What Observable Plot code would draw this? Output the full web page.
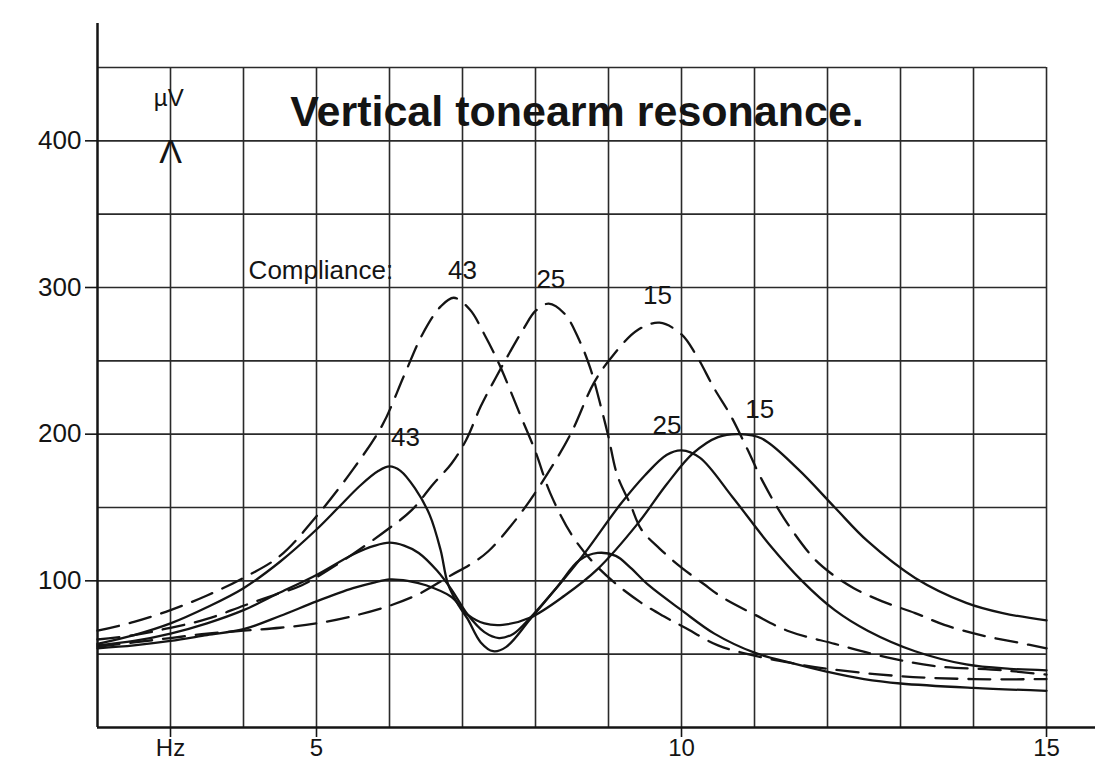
<!DOCTYPE html>
<html><head><meta charset="utf-8">
<script src="https://cdn.jsdelivr.net/npm/d3@7"></script>
<script src="https://cdn.jsdelivr.net/npm/@observablehq/plot@0.6"></script>
<style>html,body{margin:0;padding:0;background:#fff;} svg{display:block}</style>
</head><body><div id="chart"></div>
<script>
// Compliance values (curve labels)
const compliances = ["43", "25", "15"];

// Solid curves (frequency in Hz, output in µV)
const fS43 = [2, 2.5, 3, 3.5, 4, 4.5, 5, 5.3, 5.6, 5.85, 6.0, 6.15, 6.35, 6.55, 6.7, 6.8, 6.95, 7.07, 7.25, 7.42, 7.6, 7.93, 8.3, 8.6, 8.85, 9.1, 9.3, 9.55, 10, 10.45, 11, 11.5, 12, 12.5, 13, 14, 15];
const vS43 = [57, 63, 71, 82, 95, 113, 135, 150, 165, 175, 178, 175, 163, 145, 121, 98, 83, 74, 58, 52, 55, 74, 96, 114, 119, 117, 109, 97, 80, 64, 51, 44, 38, 33, 30, 27, 25];

const fS25 = [2, 2.5, 3, 3.5, 4, 4.5, 5, 5.5, 5.8, 6.0, 6.2, 6.4, 6.65, 6.85, 7.07, 7.3, 7.5, 7.7, 7.93, 8.3, 8.66, 9.16, 9.5, 9.8, 10.0, 10.25, 10.7, 11.2, 11.65, 12.1, 12.55, 13.2, 13.9, 14.5, 15];
const vS25 = [56, 59, 64, 71, 80, 92, 104, 118, 124, 126, 124, 119, 107, 94, 77, 65, 61, 64, 75, 96, 118, 152, 172, 186, 189, 184, 157, 125, 100, 80, 66, 52, 43, 40, 39];

const fS15 = [2, 2.5, 3, 3.5, 4, 4.5, 5, 5.5, 5.8, 6.0, 6.25, 6.5, 6.85, 7.07, 7.3, 7.55, 7.93, 8.4, 8.85, 9.4, 9.8, 10.16, 10.5, 10.8, 11.1, 11.6, 12.1, 12.55, 13.2, 13.9, 14.4, 15];
const vS15 = [54, 56, 59, 63, 67, 76, 86, 95, 99, 101, 100, 97, 89, 77, 71, 70, 75, 90, 108, 139, 166, 187, 198, 200, 197, 176, 150, 127, 102, 85, 78, 73];

// Dashed curves
const fD43 = [2, 2.5, 3, 3.5, 4, 4.5, 5, 5.5, 5.9, 6.2, 6.45, 6.7, 6.88, 7.1, 7.3, 7.5, 7.8, 8.0, 8.2, 8.5, 8.8, 9.1, 9.45, 9.75, 10.05, 10.5, 11, 11.5, 12, 13, 14, 15];
const vD43 = [66, 72, 80, 90, 102, 117, 144, 176, 206, 240, 268, 287, 293, 285, 268, 248, 212, 188, 160, 131, 112, 98, 85, 76, 68, 56, 49, 44, 40, 35, 33, 33];

const fD25 = [2, 2.5, 3, 3.5, 4, 4.4, 4.8, 5.15, 5.55, 6.0, 6.3, 6.6, 6.85, 7.05, 7.25, 7.45, 7.65, 7.85, 8.0, 8.18, 8.4, 8.6, 8.75, 8.9, 9.0, 9.12, 9.3, 9.45, 9.7, 10.0, 10.3, 10.55, 11.0, 11.45, 12.1, 12.8, 13.45, 14.4, 15];
const vD25 = [60, 63, 68, 74, 83, 90, 97, 107, 120, 136, 148, 166, 180, 196, 219, 238, 256, 273, 284, 289, 282, 264, 245, 218, 198, 172, 152, 135, 122, 109, 98, 89, 77, 66, 57, 48, 42, 39, 36];

const fD15 = [2, 2.5, 3, 3.5, 4, 4.5, 5, 5.5, 6.0, 6.4, 6.85, 7.1, 7.35, 7.75, 8.1, 8.48, 8.8, 9.05, 9.4, 9.7, 10.0, 10.2, 10.45, 10.67, 10.9, 11.1, 11.4, 11.8, 12.05, 12.36, 12.75, 13.2, 13.6, 14.1, 14.6, 15];
const vD15 = [55, 58, 61, 64, 66, 68, 71, 76, 83, 91, 104, 111, 120, 143, 168, 200, 235, 253, 271, 276, 268, 254, 231, 213, 190, 169, 143, 116, 105, 95, 86, 78, 70, 63, 58, 54];

// Axes / grid
const xGrid = [3, 4, 5, 6, 7, 8, 9, 10, 11, 12, 13, 14, 15];
const yGrid = [50, 100, 150, 200, 250, 300, 350, 400, 450];
const xTicks = [3, 5, 10, 15];
const xTickLabels = ["Hz", "5", "10", "15"];
const yTicks = [100, 200, 300, 400];

const titleText = "Vertical tonearm resonance.";
const unitText = "µV";
const complianceText = "Compliance:";

const zip = (key, f, v) => f.map((x, i) => ({freq: x, uv: v[i], key}));
const solidRows = [...zip("S43", fS43, vS43), ...zip("S25", fS25, vS25), ...zip("S15", fS15, vS15)];
const dashedRows = [...zip("D43", fD43, vD43), ...zip("D25", fD25, vD25), ...zip("D15", fD15, vD15)];

const dashedLabels = [
  {x: 7.0, y: 306, t: compliances[0]},
  {x: 8.21, y: 300, t: compliances[1]},
  {x: 9.67, y: 289, t: compliances[2]}
];
const solidLabels = [
  {x: 6.22, y: 192, t: compliances[0]},
  {x: 9.8, y: 200, t: compliances[1]},
  {x: 11.07, y: 211, t: compliances[2]}
];

const ink = "#141414";
const chart = Plot.plot({
  width: 1095, height: 766,
  marginLeft: 97, marginRight: 0, marginTop: 23, marginBottom: 39,
  x: {domain: [2, 15.671]},
  y: {domain: [0, 480]},
  style: {fontFamily: "'Liberation Sans', Arial, sans-serif", fontSize: "26px", color: ink, background: "#fff"},
  marks: [
    Plot.ruleX(xGrid, {y1: 0, y2: 450, stroke: "#2a2a2a", strokeWidth: 1.6}),
    Plot.ruleY(yGrid, {x1: 2, x2: 15, stroke: "#2a2a2a", strokeWidth: 1.6}),
    Plot.ruleX([2], {y1: 0, y2: 480, stroke: ink, strokeWidth: 2.5}),
    Plot.ruleY([0], {x1: 2, x2: 15.671, stroke: ink, strokeWidth: 2.5}),
    Plot.axisY(yTicks, {tickSize: 12, tickPadding: 4, label: null, fontSize: 26, strokeWidth: 1.6}),
    Plot.axisX(xTicks, {tickSize: 10, tickPadding: 1, label: null, fontSize: 24, strokeWidth: 1.6,
      tickFormat: d => xTickLabels[xTicks.indexOf(d)]}),
    Plot.line(solidRows, {x: "freq", y: "uv", z: "key", curve: "catmull-rom", stroke: ink, strokeWidth: 2.3}),
    Plot.line(dashedRows, {x: "freq", y: "uv", z: "key", curve: "catmull-rom", stroke: ink, strokeWidth: 2.3, strokeDasharray: "22,11"}),
    Plot.text([titleText], {x: 4.64, y: 410, text: d => d, textAnchor: "start", lineAnchor: "bottom", fontSize: 43, fontWeight: "bold", fill: ink}),
    Plot.text([unitText], {x: 3.18, y: 424, text: d => d, textAnchor: "end", lineAnchor: "bottom", fontSize: 24, fill: ink}),
    Plot.text(["Λ"], {x: 3, y: 385, text: d => d, textAnchor: "middle", lineAnchor: "bottom", fontSize: 34, fontWeight: 300, fill: ink}),
    Plot.text([complianceText], {x: 4.07, y: 306, text: d => d, textAnchor: "start", lineAnchor: "bottom", fontSize: 26, fill: ink}),
    Plot.text(dashedLabels, {x: "x", y: "y", text: "t", textAnchor: "middle", lineAnchor: "bottom", fontSize: 26, fill: ink}),
    Plot.text(solidLabels, {x: "x", y: "y", text: "t", textAnchor: "middle", lineAnchor: "bottom", fontSize: 26, fill: ink})
  ]
});
document.getElementById("chart").appendChild(chart);
</script>
</body></html>
